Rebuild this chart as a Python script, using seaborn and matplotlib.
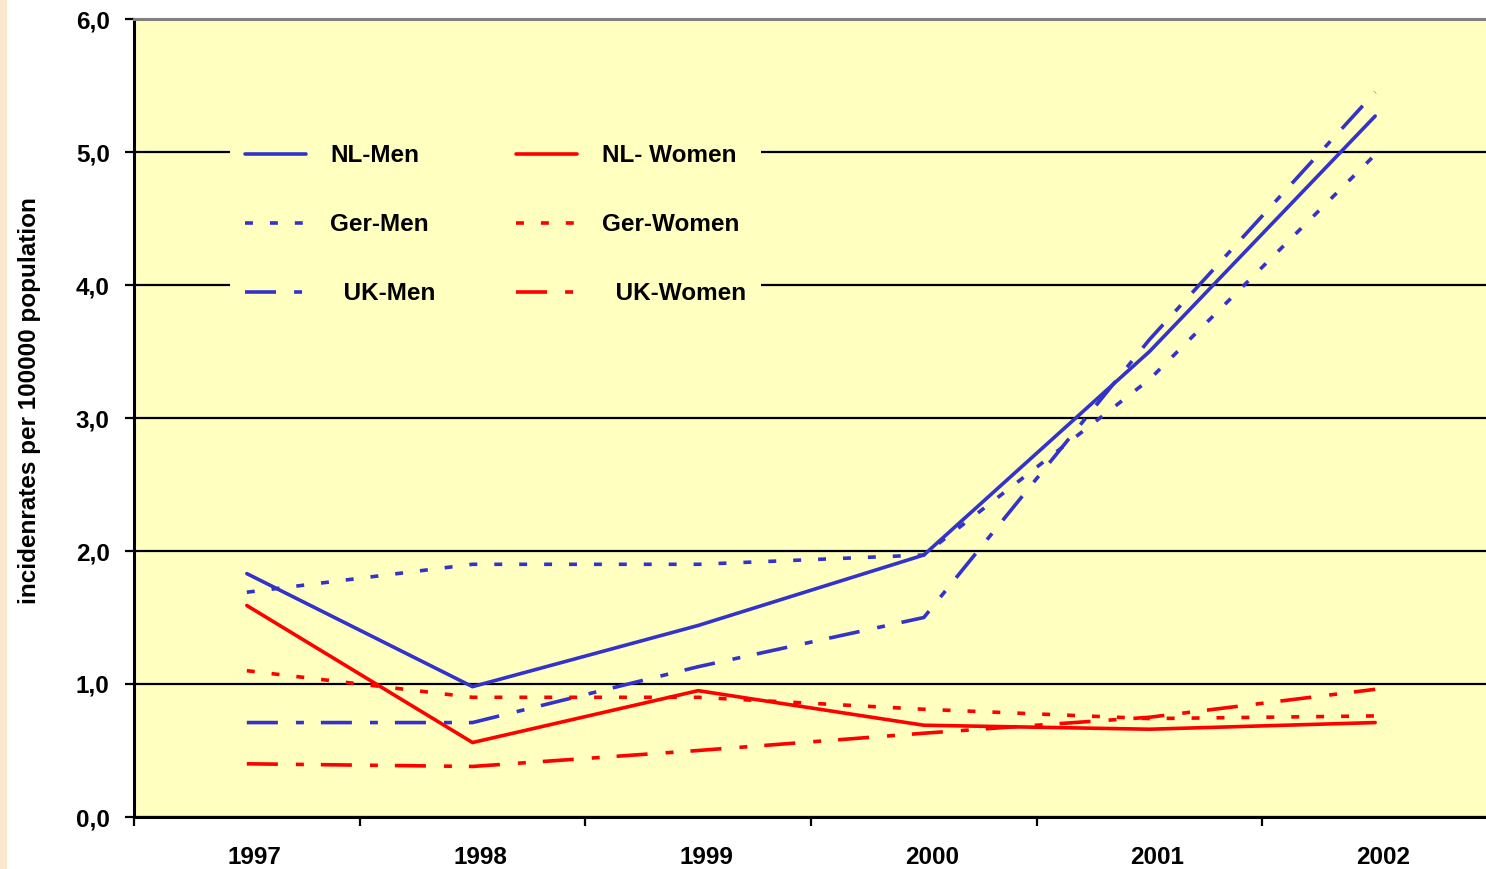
import pandas as pd
import matplotlib.pyplot as plt
import matplotlib
import seaborn as sns
from matplotlib.patches import Rectangle
from matplotlib.transforms import ScaledTranslation

sns.set_style('white')
plt.rcParams['font.family'] = ['Liberation Sans', 'DejaVu Sans']
plt.rcParams['font.weight'] = 'bold'
plt.rcParams['text.color'] = 'black'
plt.rcParams['axes.labelcolor'] = 'black'
plt.rcParams['xtick.color'] = 'black'
plt.rcParams['ytick.color'] = 'black'

# Data
years = ['1997', '1998', '1999', '2000', '2001', '2002']
nl_men = [1.83, 0.98, 1.44, 1.97, 3.50, 5.27]
ger_men = [1.69, 1.90, 1.90, 1.97, 3.29, 4.98]
uk_men = [0.71, 0.71, 1.13, 1.50, 3.59, 5.45]
nl_women = [1.59, 0.56, 0.95, 0.69, 0.66, 0.71]
ger_women = [1.10, 0.90, 0.90, 0.81, 0.74, 0.76]
uk_women = [0.40, 0.38, 0.50, 0.63, 0.75, 0.96]

series_names = ['NL-Men', 'Ger-Men', '  UK-Men', 'NL- Women', 'Ger-Women', '  UK-Women']
series_vals = [nl_men, ger_men, uk_men, nl_women, ger_women, uk_women]

blue = '#3333cc'
red = '#ff0000'
palette = dict(zip(series_names, [blue, blue, blue, red, red, red]))
dotted = (2.2, 4.7)
dashdot = (8.6, 5, 2.2, 4.7)
dashes = dict(zip(series_names, ['', dotted, dashdot, '', dotted, dashdot]))
lw = 2.6
fs = 17.5

rows = []
for name, vals in zip(series_names, series_vals):
    for i, v in enumerate(vals):
        rows.append({'x': i, 'value': v, 'series': name})
df = pd.DataFrame(rows)

fig = plt.figure(figsize=(14.86, 8.69), dpi=100)
fig.patches.append(Rectangle((0, 0), 6 / 1486, 1, transform=fig.transFigure,
                             color='#fbe7cf', zorder=0))
ax = fig.add_axes([134 / 1486, 52 / 869, 1354 / 1486, 798 / 869])
ax.set_facecolor('#ffffc0')

sns.lineplot(data=df, x='x', y='value', hue='series', style='series',
             palette=palette, dashes=dashes, linewidth=lw, ax=ax,
             legend=False, zorder=3)
for line in ax.get_lines():
    line.set_dash_capstyle('butt')

ax.set_xlim(-0.5, 5.5)
ax.set_ylim(0, 6)

# y axis
ax.set_yticks([0, 1, 2, 3, 4, 5, 6])
ax.set_yticklabels(['0,0', '1,0', '2,0', '3,0', '4,0', '5,0', '6,0'])
ax.yaxis.grid(True, color='black', linewidth=1.6)
ax.tick_params(axis='y', direction='out', length=6.5, width=1.6, pad=11,
               labelsize=fs, left=True)

# x axis: labels at category centres, ticks at boundaries
ax.set_xticks(range(len(years)))
ax.set_xticklabels(years)
ax.set_xticks([i - 0.5 for i in range(len(years) + 1)], minor=True)
ax.tick_params(axis='x', which='major', length=0, pad=21, labelsize=fs)
ax.tick_params(axis='x', which='minor', direction='out', length=6.5, width=1.6,
               bottom=True)

shift = ScaledTranslation(8 / 100, 0, fig.dpi_scale_trans)
for lab in ax.get_xticklabels():
    lab.set_transform(lab.get_transform() + shift)
for lab in ax.get_xticklabels() + ax.get_yticklabels():
    lab.set_fontweight('bold')

ax.spines['left'].set_linewidth(2.2)
ax.spines['left'].set_color('black')
ax.spines['bottom'].set_linewidth(2.2)
ax.spines['bottom'].set_color('black')
ax.spines['top'].set_color('#808080')
ax.spines['top'].set_linewidth(2.2)
ax.spines['right'].set_visible(False)

ax.set_xlabel('')
ax.set_ylabel('incidenrates per 100000 population', fontsize=fs, fontweight='bold')
ax.yaxis.set_label_coords(-0.0688, 0.522)

# Legend
handles = []
for name in series_names:
    h, = ax.plot([], [], color=palette[name], linewidth=lw,
                 linestyle='-' if dashes[name] == '' else (0, dashes[name]))
    h.set_dash_capstyle('butt')
    handles.append(h)
leg = ax.legend(handles, series_names, ncol=2, loc='upper left',
                bbox_to_anchor=(230 / 1486, 1 - 129 / 869),
                bbox_transform=fig.transFigure,
                prop={'size': fs, 'weight': 'bold'},
                handlelength=2.5, handletextpad=1.0, columnspacing=3.33,
                labelspacing=1.9, borderpad=0.62, borderaxespad=0,
                frameon=True, fancybox=False, framealpha=1)
leg.get_frame().set_facecolor('#ffffc0')
leg.get_frame().set_edgecolor('none')
leg.set_zorder(5)

plt.savefig('out.png', dpi=100)
